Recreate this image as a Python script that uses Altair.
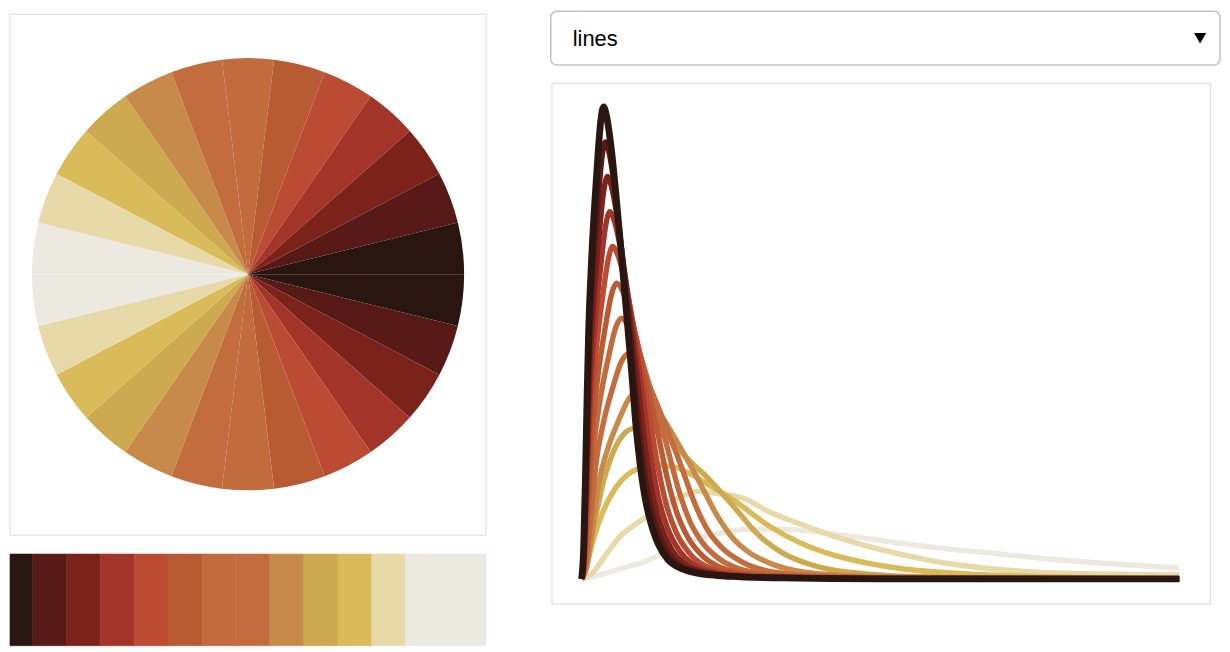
import math
import pandas as pd
import altair as alt

# ---- palette (13 colours, dark -> light) ----
colors = ["#2a1610", "#581a17", "#7b221a", "#a3342a", "#bb4c33", "#b85a32",
          "#c26b3d", "#c36d3e", "#c88a4a", "#cdaa50", "#dabb5a", "#e7d9a8", "#ece9e1"]

bar_edges = [0, 22.7, 56.7, 90.7, 125, 159, 193.4, 227.2, 261.4, 295.7, 330, 364, 398, 479]

# pie: 26 equal slices, palette then palette reversed
pie_colors = colors + colors[::-1]
pie_values = [1] * 26

dropdown_label = ["lines"]

# ---- curves (x, y), one per palette colour ----
c0_x = [0, 2, 4, 5.5, 7, 10, 15, 19, 22, 25, 30, 35, 40, 47, 51, 54, 57, 60, 64, 67, 72, 77, 87, 97, 107, 130, 150, 200, 300, 600]
c0_y = [0, 30, 110, 185, 248, 321, 405, 458, 474, 465, 430, 380, 325, 245, 198, 160, 130, 105, 80, 66, 48, 35, 19, 12, 8, 4, 2.5, 1, 0, 0]

c1_x = [0, 2.2, 4.3, 7.6, 10.8, 16.2, 20.5, 23.8, 27, 32.4, 37.8, 43.2, 50.8, 58.3, 64.8, 72.4, 83.2, 94, 115.6, 162, 324, 600]
c1_y = [0, 27.8, 101.9, 229.6, 297.2, 375, 424.1, 438.9, 430.6, 398.1, 351.9, 300.9, 226.9, 148.1, 97.2, 61.1, 32.4, 17.6, 7.4, 2.3, 0, 0]

c2_x = [0, 2.3, 4.7, 8.2, 11.7, 17.6, 22.3, 25.8, 29.3, 35.2, 41.1, 46.9, 55.1, 63.3, 70.4, 78.6, 90.3, 102, 125.5, 176, 352, 600]
c2_y = [0, 25.6, 93.8, 211.4, 273.7, 345.3, 390.5, 404.1, 396.4, 366.6, 324, 277.1, 208.9, 136.4, 89.5, 56.3, 29.8, 16.2, 6.8, 2.1, 0, 0]

c3_x = [0, 2.6, 5.1, 9, 12.9, 19.3, 24.4, 28.3, 32.1, 38.6, 45, 51.4, 60.4, 69.4, 77.1, 86.1, 98.9, 111.8, 137.5, 192.8, 385.5, 600]
c3_y = [0, 23.3, 85.6, 193, 249.8, 315.2, 356.4, 368.9, 361.9, 334.6, 295.7, 252.9, 190.7, 124.5, 81.7, 51.4, 27.2, 14.8, 6.2, 1.9, 0, 0]

c4_x = [0, 2.8, 5.7, 9.9, 14.2, 21.3, 27, 31.2, 35.5, 42.6, 49.7, 56.8, 66.7, 76.7, 85.2, 95.1, 109.3, 123.5, 151.9, 213, 426, 600]
c4_y = [0, 21.1, 77.5, 174.6, 226.1, 285.2, 322.5, 333.8, 327.5, 302.8, 267.6, 228.9, 172.5, 112.7, 73.9, 46.5, 24.6, 13.4, 5.6, 1.8, 0, 0]

c5_x = [0, 3.2, 6.4, 11.2, 16, 23.9, 30.3, 35.1, 39.9, 47.9, 55.9, 63.8, 75, 86.2, 95.8, 106.9, 122.9, 138.9, 170.8, 239.4, 478.8, 600]
c5_y = [0, 18.8, 68.9, 155.4, 201.1, 253.8, 287, 297, 291.4, 269.4, 238.1, 203.6, 153.5, 100.3, 65.8, 41.4, 21.9, 11.9, 5, 1.6, 0, 0]

c6_x = [0, 3.6, 7.2, 12.7, 18.1, 27.2, 34.4, 39.8, 45.3, 54.3, 63.4, 72.4, 85.1, 97.7, 108.6, 121.3, 139.4, 157.5, 193.7, 271.5, 543, 600]
c6_y = [0, 16.6, 60.8, 137, 177.3, 223.8, 253, 261.9, 256.9, 237.6, 209.9, 179.6, 135.4, 88.4, 58, 36.5, 19.3, 10.5, 4.4, 1.4, 0, 0]

c7_x = [0, 4.2, 8.4, 14.7, 21, 31.5, 39.9, 46.2, 52.5, 63, 73.5, 84, 98.7, 113.4, 126, 140.7, 161.7, 182.7, 224.7, 315, 600]
c7_y = [0, 14.3, 52.4, 118.1, 152.9, 192.9, 218.1, 225.7, 221.4, 204.8, 181, 154.8, 116.7, 76.2, 50, 31.4, 16.7, 9, 3.8, 1.2, 0]

c8_x = [0, 5, 10.1, 17.6, 25.2, 37.8, 47.9, 55.4, 63, 75.6, 88.2, 100.8, 118.4, 136.1, 151.2, 168.8, 194, 219.2, 269.6, 378, 600]
c8_y = [0, 11.9, 43.7, 98.4, 127.4, 160.7, 181.7, 188.1, 184.5, 170.6, 150.8, 129, 97.2, 63.5, 41.7, 26.2, 13.9, 7.5, 3.2, 1, 0]

c9_x = [0, 4, 8, 14, 22, 32, 42, 52, 65, 79, 95, 111, 126, 148, 161, 171, 180, 190, 202, 212, 228, 243, 275, 306, 338, 411, 474, 600]
c9_y = [0, 12, 32, 62, 98, 128, 145, 151, 151, 146, 132, 116, 102, 78, 63, 51, 42, 34, 26, 21, 15, 11, 6, 3.5, 2.2, 1.3, 0.9, 0.3]

c10_x = [0, 4, 8, 14, 20, 30, 40, 55, 70, 90, 110, 130, 150, 187, 220, 253, 287, 320, 387, 453, 520, 600]
c10_y = [0, 8, 25, 47, 64, 85, 99, 110, 114, 113, 105, 93, 81, 54, 36, 24, 16, 10.5, 5, 2.5, 1.2, 0.5]

c11_x = [0, 5, 11, 22, 38, 54, 70, 85, 100, 118, 135, 165, 187, 220, 253, 287, 320, 353, 387, 453, 520, 600]
c11_y = [0, 2, 6, 21, 42, 55, 65, 75, 83, 88, 86, 80, 68, 55, 43, 33, 25, 18, 13, 7, 5, 4]

c12_x = [0, 10, 25, 45, 65, 80, 100, 120, 145, 170, 200, 230, 270, 320, 370, 420, 470, 520, 600]
c12_y = [0, 2, 6, 12, 18, 25, 35, 42, 47, 50, 50, 48, 43, 36, 30, 25, 20, 16, 11]

curves_x = [c0_x, c1_x, c2_x, c3_x, c4_x, c5_x, c6_x, c7_x, c8_x, c9_x, c10_x, c11_x, c12_x]
curves_y = [c0_y, c1_y, c2_y, c3_y, c4_y, c5_y, c6_y, c7_y, c8_y, c9_y, c10_y, c11_y, c12_y]

# ---------------- pie ----------------
pie_df = pd.DataFrame({"slice": list(range(26)), "value": pie_values, "col": pie_colors})
pie = alt.Chart(pie_df).mark_arc(outerRadius=217).encode(
    theta=alt.Theta("value:Q", stack=True,
                    scale=alt.Scale(range=[math.pi / 2, math.pi / 2 + 2 * math.pi])),
    color=alt.Color("col:N", scale=None, legend=None),
    order=alt.Order("slice:Q"),
)
frame = alt.Chart(pd.DataFrame({"k": [0]})).mark_rect(
    fill="white", fillOpacity=0, stroke="#e2e2e2", strokeWidth=1.2
).encode(x=alt.value(0), x2=alt.value(478), y=alt.value(2), y2=alt.value(525))
pie_panel = alt.layer(frame, pie).properties(width=478, height=526)

# ---------------- colour bar ----------------
bar_df = pd.DataFrame({"start": bar_edges[:-1], "end": bar_edges[1:], "col": colors})
bar = alt.Chart(bar_df).mark_rect(strokeWidth=0.6).encode(
    x=alt.X("start:Q", scale=alt.Scale(domain=[0, 479], nice=False, zero=False), axis=None),
    x2="end:Q",
    color=alt.Color("col:N", scale=None, legend=None),
    stroke=alt.Stroke("col:N", scale=None, legend=None),
).properties(width=478, height=92)

left = alt.vconcat(pie_panel, bar, spacing=16)

# ---------------- dropdown look-alike ----------------
dd_df = pd.DataFrame({"label": dropdown_label})
dd_box = alt.Chart(dd_df).mark_rect(
    cornerRadius=6, fill="white", stroke="#c4c4c4", strokeWidth=1.5
).encode(x=alt.value(-1), x2=alt.value(671), y=alt.value(-1), y2=alt.value(53))
dd_text = alt.Chart(dd_df).mark_text(
    align="left", baseline="alphabetic", fontSize=22, font="Liberation Sans", color="#000000"
).encode(x=alt.value(21), y=alt.value(34), text="label:N")
dd_arrow = alt.Chart(dd_df).mark_point(
    shape="triangle-down", filled=True, size=150, color="#000000", opacity=1
).encode(x=alt.value(651), y=alt.value(26))
dropdown = alt.layer(dd_box, dd_text, dd_arrow).properties(width=672, height=54)

# ---------------- lines ----------------
rows = []
for ci, (xs, ys) in enumerate(zip(curves_x, curves_y)):
    for k, (xv, yv) in enumerate(zip(xs, ys)):
        rows.append({"curve": ci, "idx": k, "x": xv, "y": yv})
line_df = pd.DataFrame(rows)

xscale = alt.Scale(domain=[-30, 631], nice=False, zero=False)
yscale = alt.Scale(domain=[-25, 498], nice=False, zero=False)

layers = []
for ci in reversed(range(13)):
    w = 6.8 if ci == 0 else 5.4
    layers.append(
        alt.Chart(line_df[line_df["curve"] == ci]).mark_line(
            color=colors[ci], strokeWidth=w, interpolate="monotone"
        ).encode(
            x=alt.X("x:Q", scale=xscale, axis=None),
            y=alt.Y("y:Q", scale=yscale, axis=None),
            order=alt.Order("idx:Q"),
        )
    )
lines = alt.layer(*layers).properties(
    width=661, height=523, view=alt.ViewBackground(stroke="#e2e2e2", strokeWidth=1.2)
)

right = alt.vconcat(dropdown, lines, spacing=15)

chart = alt.hconcat(left, right, spacing=61).properties(
    padding={"left": 0, "top": 0, "right": 0, "bottom": 0}
).configure_view(stroke="transparent")

chart.save("out.html", embed_options={"renderer": "svg", "actions": False})
